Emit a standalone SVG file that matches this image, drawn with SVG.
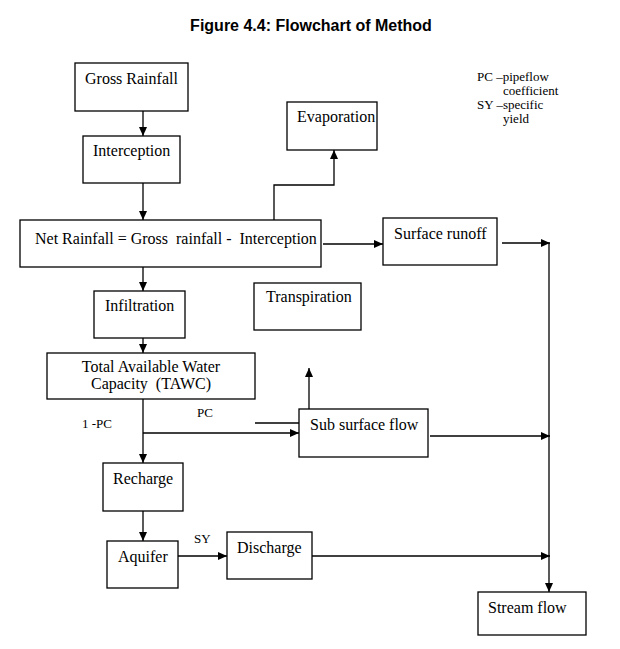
<svg xmlns="http://www.w3.org/2000/svg" width="620" height="649" viewBox="0 0 620 649">
<style>
.box{fill:#fff;stroke:#000;stroke-width:1.3}
.t{font-family:"Liberation Serif","Times New Roman",serif;font-size:16px;fill:#000}
.s{font-family:"Liberation Serif","Times New Roman",serif;font-size:13px;fill:#000}
.title{font-family:"Liberation Sans",Arial,sans-serif;font-size:16px;font-weight:bold;fill:#000}
.c{fill:none;stroke:#000;stroke-width:1.3}
.a{marker-end:url(#ah)}
</style>
<defs>
<marker id="ah" markerUnits="userSpaceOnUse" markerWidth="10" markerHeight="8" refX="9" refY="4" orient="auto">
<path d="M0,0 L9,4 L0,8 Z" fill="#000"/>
</marker>
</defs>
<rect width="620" height="649" fill="#fff"/>
<text class="title" x="311" y="31" text-anchor="middle">Figure 4.4: Flowchart of Method</text>

<g id="legend">
<text class="s" x="477" y="81">PC –pipeflow</text>
<text class="s" x="503" y="95">coefficient</text>
<text class="s" x="477" y="109">SY –specific</text>
<text class="s" x="503" y="123">yield</text>
</g>

<g id="connectors">
<line class="c a" x1="143" y1="111" x2="143" y2="136"/>
<line class="c a" x1="143" y1="183" x2="143" y2="220"/>
<polyline class="c a" points="274,220 274,185 334,185 334,150"/>
<line class="c a" x1="323" y1="244" x2="383" y2="244"/>
<line class="c a" x1="502" y1="243" x2="550" y2="243"/>
<line class="c a" x1="549" y1="243" x2="549" y2="592"/>
<line class="c a" x1="143" y1="267" x2="143" y2="291"/>
<line class="c a" x1="143" y1="323" x2="143" y2="353"/>
<line class="c a" x1="143" y1="399" x2="143" y2="463"/>
<line class="c a" x1="143" y1="433" x2="299" y2="433"/>
<line class="c" x1="255" y1="423" x2="306" y2="423"/>
<line class="c a" x1="309" y1="415" x2="309" y2="368"/>
<line class="c a" x1="430" y1="436" x2="550" y2="436"/>
<line class="c a" x1="143" y1="511" x2="143" y2="541"/>
<line class="c a" x1="178" y1="556" x2="227" y2="556"/>
<line class="c a" x1="312" y1="556" x2="550" y2="556"/>
<text class="s" x="197" y="417">PC</text>
<text class="s" x="82" y="428">1 -PC</text>
<text class="s" x="194" y="543">SY</text>
</g>

<g id="gross-rainfall">
<rect class="box" x="75" y="63" width="113" height="48"/>
<text class="t" x="85" y="84">Gross Rainfall</text>
</g>
<g id="interception">
<rect class="box" x="83" y="136" width="97" height="47"/>
<text class="t" x="93" y="156">Interception</text>
</g>
<g id="net-rainfall">
<rect class="box" x="20" y="220" width="301" height="47"/>
<text class="t" x="35" y="244" xml:space="preserve">Net Rainfall = Gross  rainfall -  Interception</text>
</g>
<g id="evaporation">
<rect class="box" x="287" y="102" width="90" height="48"/>
<text class="t" x="297" y="122">Evaporation</text>
</g>
<g id="surface-runoff">
<rect class="box" x="383" y="218" width="114" height="47"/>
<text class="t" x="394" y="239">Surface runoff</text>
</g>
<g id="infiltration">
<rect class="box" x="94" y="291" width="91" height="47"/>
<text class="t" x="105" y="311">Infiltration</text>
</g>
<g id="transpiration">
<rect class="box" x="254" y="283" width="107" height="47"/>
<text class="t" x="266" y="302">Transpiration</text>
</g>
<g id="tawc">
<rect class="box" x="47" y="353" width="208" height="46"/>
<text class="t" x="151" y="372" text-anchor="middle">Total Available Water</text>
<text class="t" x="151" y="389" text-anchor="middle" xml:space="preserve">Capacity  (TAWC)</text>
</g>
<g id="sub-surface-flow">
<rect class="box" x="299" y="409" width="129" height="48"/>
<text class="t" x="310" y="430">Sub surface flow</text>
</g>
<g id="recharge">
<rect class="box" x="103" y="463" width="80" height="48"/>
<text class="t" x="113" y="484">Recharge</text>
</g>
<g id="aquifer">
<rect class="box" x="107" y="541" width="71" height="47"/>
<text class="t" x="118" y="562">Aquifer</text>
</g>
<g id="discharge">
<rect class="box" x="227" y="532" width="85" height="47"/>
<text class="t" x="237" y="553">Discharge</text>
</g>
<g id="stream-flow">
<rect class="box" x="478" y="592" width="108" height="43"/>
<text class="t" x="488" y="613">Stream flow</text>
</g>
</svg>
